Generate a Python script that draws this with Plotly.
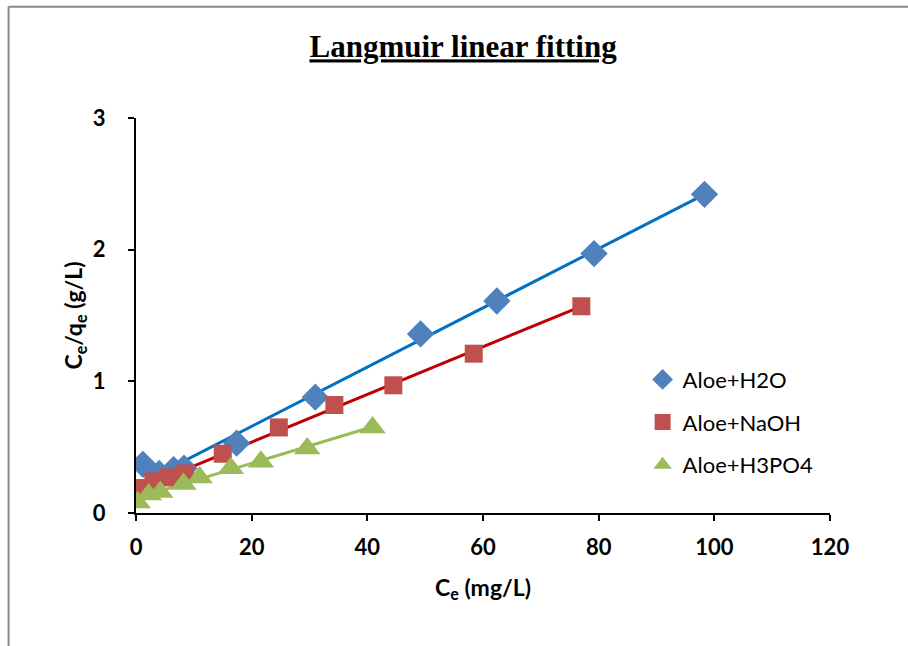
import plotly.graph_objects as go

# --- data ---
h2o_x = [1.2, 4.0, 6.5, 8.3, 17.4, 31.0, 49.2, 62.4, 79.2, 98.3]
h2o_y = [0.37, 0.30, 0.33, 0.34, 0.53, 0.88, 1.36, 1.61, 1.97, 2.42]
naoh_x = [0.3, 3.0, 5.5, 8.5, 15.0, 24.7, 34.3, 44.5, 58.4, 77.0]
naoh_y = [0.19, 0.24, 0.27, 0.30, 0.45, 0.65, 0.82, 0.97, 1.21, 1.57]
h3po4_x = [0.3, 2.2, 4.2, 8.2, 11.0, 16.4, 21.6, 29.6, 40.9]
h3po4_y = [0.08, 0.14, 0.16, 0.22, 0.27, 0.34, 0.39, 0.49, 0.65]

# fitted lines (end points)
fit_h2o_x = [1.2, 98.3]
fit_h2o_y = [0.235, 2.42]
fit_naoh_x = [0.2, 77.0]
fit_naoh_y = [0.18, 1.57]
fit_h3po4_x = [0.2, 40.9]
fit_h3po4_y = [0.115, 0.655]

names = ["Aloe+H2O", "Aloe+NaOH", "Aloe+H3PO4"]
x_ticks = [0, 20, 40, 60, 80, 100, 120]
y_ticks = [0, 1, 2, 3]

fig = go.Figure()

fig.add_trace(go.Scatter(x=fit_h2o_x, y=fit_h2o_y, mode="lines",
                         line=dict(color="#0070C0", width=3), showlegend=False, hoverinfo="skip"))
fig.add_trace(go.Scatter(x=fit_naoh_x, y=fit_naoh_y, mode="lines",
                         line=dict(color="#C00000", width=3), showlegend=False, hoverinfo="skip"))
fig.add_trace(go.Scatter(x=fit_h3po4_x, y=fit_h3po4_y, mode="lines",
                         line=dict(color="#9BBB59", width=3), showlegend=False, hoverinfo="skip"))

fig.add_trace(go.Scatter(x=h2o_x, y=h2o_y, mode="markers", name=names[0], legendgroup="a",
                         marker=dict(symbol="diamond", size=21, color="#4F81BD")))
fig.add_trace(go.Scatter(x=naoh_x, y=naoh_y, mode="markers", name=names[1], legendgroup="b",
                         marker=dict(symbol="square", size=18, color="#C0504D")))
fig.add_trace(go.Scatter(x=h3po4_x, y=h3po4_y, mode="markers", name=names[2], legendgroup="c",
                         marker=dict(symbol="triangle-up", size=23, color="#9BBB59")))

axis_font = dict(family="Lato, sans-serif", size=23, color="black", weight="bold")
tick_font = dict(family="Lato, sans-serif", size=22, color="black", weight="bold")

fig.update_layout(
    width=908, height=646,
    margin=dict(l=136, r=78, t=118, b=133),
    paper_bgcolor="white", plot_bgcolor="white",
    title=dict(text="<b><u>Langmuir linear fitting</u></b>",
               font=dict(family="'Liberation Serif', 'Times New Roman', serif", size=31, color="black"),
               x=0.51, xanchor="center", y=0.928, yanchor="middle"),
    xaxis=dict(range=[0, 120], tickvals=x_ticks, ticks="outside", ticklen=6, tickwidth=2,
               tickcolor="black", showline=True, linecolor="black", linewidth=2,
               showgrid=False, zeroline=False, tickfont=tick_font, ticklabelstandoff=8,
               title=dict(text="C<sub>e</sub> (mg/L)", font=axis_font, standoff=20)),
    yaxis=dict(range=[0, 3], tickvals=y_ticks, ticks="outside", ticklen=6, tickwidth=2,
               tickcolor="black", showline=True, linecolor="black", linewidth=2,
               showgrid=False, zeroline=False, tickfont=tick_font, ticklabelstandoff=18,
               title=dict(text="C<sub>e</sub>/q<sub>e</sub> (g/L)", font=axis_font, standoff=4)),
    legend=dict(x=0.73, y=0.23, xanchor="left", yanchor="middle",
                font=dict(family="Lato, sans-serif", size=22, color="black"),
                tracegroupgap=11, bgcolor="rgba(0,0,0,0)", itemwidth=30),
    showlegend=True,
    shapes=[
        dict(type="line", xref="paper", yref="paper", x0=-0.1836, x1=-0.1836, y0=-0.5, y1=1.2814,
             line=dict(color="#888888", width=2)),
        dict(type="line", xref="paper", yref="paper", x0=-0.1836, x1=1.3, y0=1.2814, y1=1.2814,
             line=dict(color="#888888", width=2)),
    ],
)

fig.write_html("out.html")
